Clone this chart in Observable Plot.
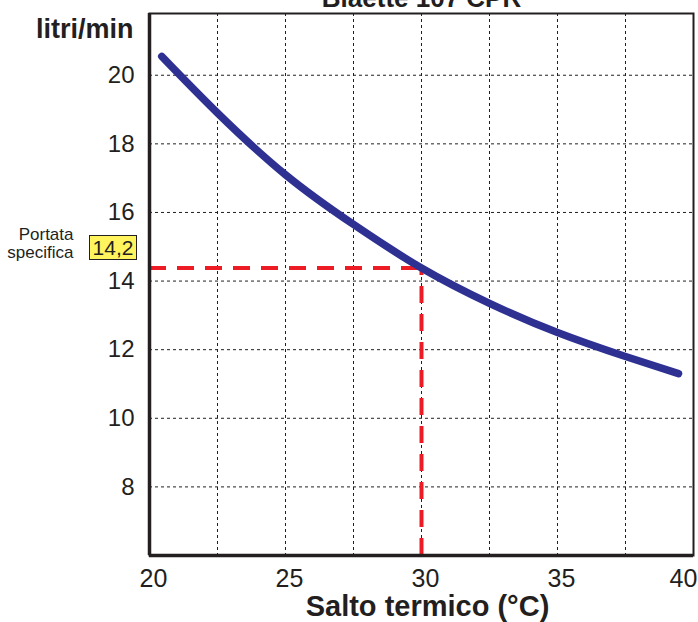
<!DOCTYPE html>
<html><head><meta charset="utf-8">
<script src="https://cdn.jsdelivr.net/npm/d3@7"></script>
<script src="https://cdn.jsdelivr.net/npm/@observablehq/plot@0.6"></script>
<style>
body{margin:0;background:#fff;}
#wrap{position:relative;width:698px;height:622px;overflow:hidden;font-family:"Liberation Sans",Arial,sans-serif;color:#231f20;}
#wrap svg{position:absolute;left:0;top:0;}
.badge{position:absolute;left:89px;top:235px;width:46px;height:23px;background:#fff35e;border:1px solid #231f20;font-size:21px;line-height:23px;text-align:center;}
</style></head><body><div id="wrap"></div>
<script>
const title = "Biaette 107 CPR";
const deltaT = [20.45, 22.5, 25, 27.5, 30, 32.5, 35, 37.5, 39.45];
const flow   = [20.55, 18.9, 17.1, 15.65, 14.38, 13.35, 12.5, 11.8, 11.3];
const xDomain = [20, 40];
const yDomain = [6, 21.8];
const xTicks = [20, 25, 30, 35];
const xTickLast = [40];
const xGrid = [22.5, 25, 27.5, 30, 32.5, 35, 37.5];
const yTicks = [8, 10, 12, 14, 16, 18, 20];
const refX = [30];
const refY = [14.38];
const refLabel = ["14,2"];
const noteLines = ["Portata", "specifica"];
const xLabel = "Salto termico (°C)";
const yLabel = "litri/min";

const data = deltaT.map((d, i) => ({x: d, y: flow[i]}));
const ink = "#231f20";
const red = "#ed1c24";

const plot = Plot.plot({
  width: 698, height: 622,
  marginLeft: 149, marginRight: 5, marginTop: 13, marginBottom: 67,
  x: {domain: xDomain},
  y: {domain: yDomain},
  style: {fontFamily: "'Liberation Sans', Arial, sans-serif", color: ink, background: "white", overflow: "visible"},
  marks: [
    Plot.gridX(xGrid, {stroke: ink, strokeOpacity: 1, strokeWidth: 1, strokeDasharray: "3,3"}),
    Plot.gridY(yTicks, {stroke: ink, strokeOpacity: 1, strokeWidth: 1, strokeDasharray: "3,3"}),
    Plot.ruleY(refY, {x1: xDomain[0], x2: refX[0], stroke: red, strokeWidth: 4, strokeDasharray: "17,11"}),
    Plot.ruleX(refX, {y1: yDomain[0], y2: refY[0], stroke: red, strokeWidth: 4, strokeDasharray: "17,11"}),
    Plot.frame({stroke: ink, strokeWidth: 2}),
    Plot.ruleX([xDomain[0]], {stroke: ink, strokeWidth: 3.5}),
    Plot.ruleY([yDomain[0]], {stroke: ink, strokeWidth: 3.5}),
    Plot.line(data, {x: "x", y: "y", curve: "natural", stroke: "#2e3192", strokeWidth: 7.5, strokeLinecap: "round", strokeLinejoin: "round"}),
    Plot.axisX(xTicks, {tickSize: 0, tickPadding: 14, fontSize: 25, label: null, dx: 4}),
    Plot.axisX(xTickLast, {tickSize: 0, tickPadding: 14, fontSize: 25, label: null, dx: -10}),
    Plot.axisY(yTicks, {tickSize: 0, tickPadding: 15, fontSize: 24, label: null}),
    Plot.text([xLabel], {frameAnchor: "bottom", dy: 60, dx: 6, lineAnchor: "bottom", fontSize: 29, fontWeight: "bold"}),
    Plot.text([yLabel], {frameAnchor: "top-left", dx: -16, dy: 24, textAnchor: "end", lineAnchor: "bottom", fontSize: 27, fontWeight: "bold"}),
    Plot.text([title], {frameAnchor: "top", dy: -7, lineAnchor: "bottom", fontSize: 26, fontWeight: "bold"}),
    Plot.text([noteLines.join("\n")], {frameAnchor: "top-left", dx: -76, dy: 213, textAnchor: "end", lineAnchor: "top", fontSize: 17, lineHeight: 1.1})
  ]
});
const wrap = document.getElementById("wrap");
wrap.appendChild(plot);
const badge = document.createElement("div");
badge.className = "badge";
badge.textContent = refLabel[0];
wrap.appendChild(badge);
</script>
</body></html>
